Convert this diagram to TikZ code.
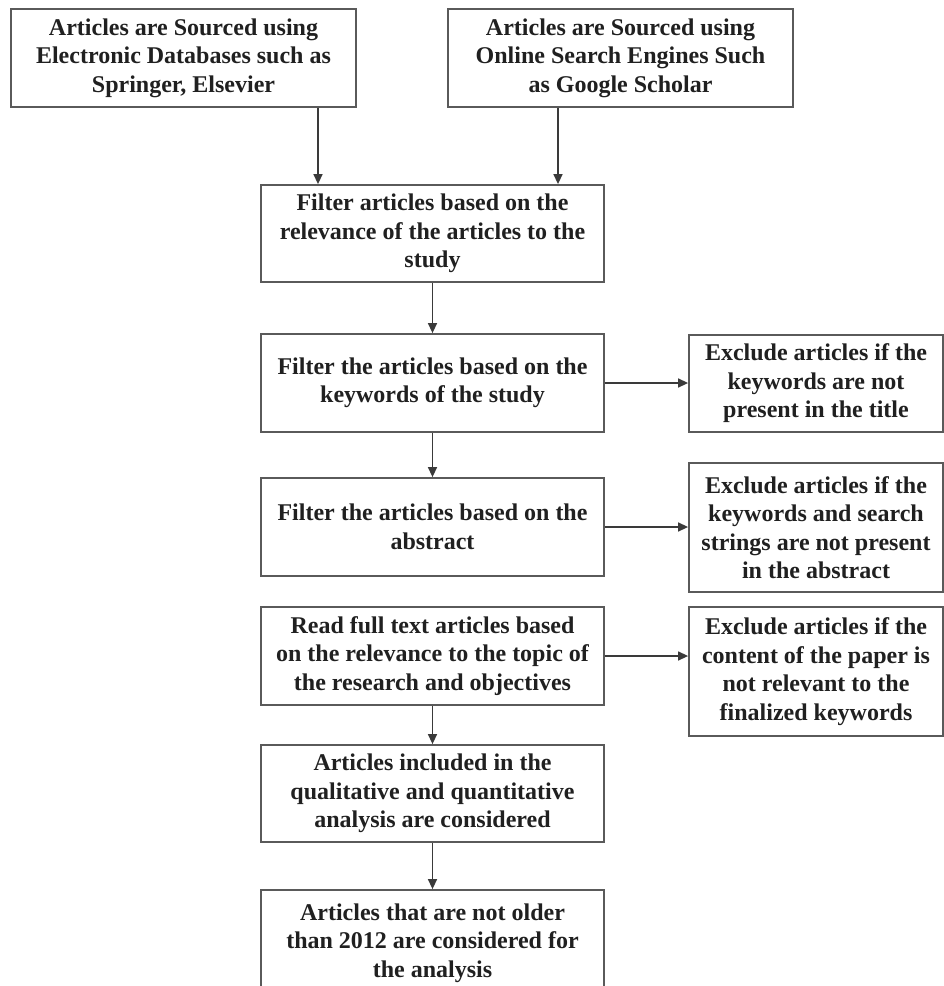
\documentclass[tikz,border=0pt]{standalone}
\usepackage{fontspec}
\setmainfont{Liberation Serif}
\usetikzlibrary{arrows.meta,calc}
\definecolor{boxline}{HTML}{5A5A5A}
\definecolor{arrline}{HTML}{3A3A3A}
\definecolor{txt}{HTML}{202020}
\tikzset{
  box/.style={draw=boxline, line width=1.8pt, fill=white, align=center, inner sep=0pt,
    text=txt, font=\bfseries\fontsize{24}{28.5}\selectfont},
  arr/.style={draw=arrline, line width=1.4pt, -{Triangle[length=10pt,width=9pt]}}
}
\begin{document}
\begin{tikzpicture}[x=1pt,y=-1pt]
\useasboundingbox (0,0) rectangle (944,986);
\fill[white] (0,0) rectangle (944,986);
\node[box, minimum width=345pt, minimum height=98pt] (A) at (183.5,58)
  {Articles are Sourced using\\Electronic Databases such as\\Springer, Elsevier};
\node[box, minimum width=345pt, minimum height=98pt] (B) at (620.5,58)
  {Articles are Sourced using\\Online Search Engines Such\\as Google Scholar};
\node[box, minimum width=343pt, minimum height=97pt] (C) at (432.5,233.5)
  {Filter articles based on the\\relevance of the articles to the\\study};
\node[box, minimum width=343pt, minimum height=98pt] (D) at (432.5,383)
  {Filter the articles based on the\\keywords of the study};
\node[box, minimum width=343pt, minimum height=98pt] (E) at (432.5,527)
  {Filter the articles based on the\\abstract};
\node[box, minimum width=343pt, minimum height=98pt] (F) at (432.5,656)
  {Read full text articles based\\on the relevance to the topic of\\the research and objectives};
\node[box, minimum width=343pt, minimum height=97pt] (G) at (432.5,793.5)
  {Articles included in the\\qualitative and quantitative\\analysis are considered};
\node[box, minimum width=343pt, minimum height=106pt] (H) at (432.5,943)
  {Articles that are not older\\than 2012 are considered for\\the analysis};
\node[box, minimum width=254pt, minimum height=97pt] (R1) at (816,383.5)
  {Exclude articles if the\\keywords are not\\present in the title};
\node[box, minimum width=254pt, minimum height=129pt] (R2) at (816,527.5)
  {Exclude articles if the\\keywords and search\\strings are not present\\in the abstract};
\node[box, minimum width=254pt, minimum height=129pt] (R3) at (816,671.5)
  {Exclude articles if the\\content of the paper is\\not relevant to the\\finalized keywords};
\draw[arr] ([xshift=134.5pt]A.south) -- ([xshift=134.5pt]A.south |- C.north);
\draw[arr] ([xshift=-62.5pt]B.south) -- ([xshift=-62.5pt]B.south |- C.north);
\draw[arr] (C.south) -- (D.north);
\draw[arr] (D.south) -- (E.north);
\draw[arr] (F.south) -- (G.north);
\draw[arr] (G.south) -- (H.north);
\draw[arr] (D.east) -- (D.east -| R1.west);
\draw[arr] (E.east) -- (E.east -| R2.west);
\draw[arr] (F.east) -- (F.east -| R3.west);
\end{tikzpicture}
\end{document}
